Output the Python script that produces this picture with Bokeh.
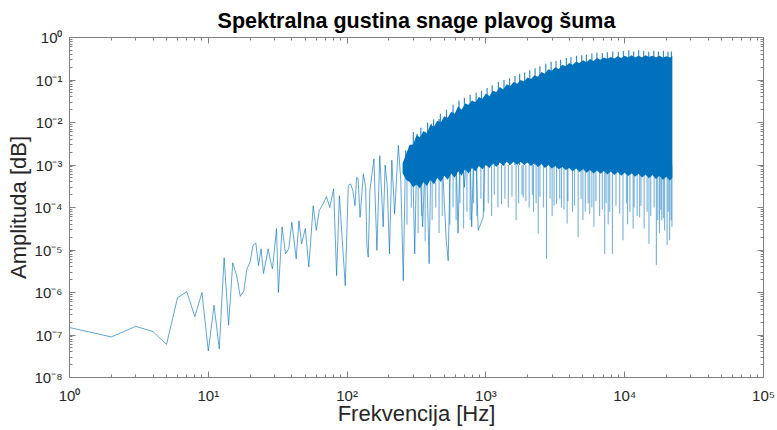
from bokeh.plotting import figure
from bokeh.models import LogAxis, FixedTicker, ColumnDataSource, CustomJSTickFormatter
from bokeh.embed import file_html
from bokeh.resources import INLINE

# ---------------- data ----------------
# low / mid frequency trace (individual strokes visible)
trace_freq = [1, 2, 3, 4, 5, 6, 7, 8, 9, 10, 11, 12, 13, 14, 15, 16, 17, 18, 19, 20,
              21, 22, 23, 24, 25, 27, 28, 29, 31, 32, 34, 36, 38, 40, 43, 45, 47, 50,
              53, 57, 60, 63, 67, 71, 75, 80, 84, 88, 92, 97, 102, 106, 110, 114, 117,
              120, 124, 131, 136, 139, 142, 146, 151, 156, 164, 172, 182, 188, 195, 202,
              210, 220, 234, 244, 254, 264, 280, 295, 307, 320, 335, 350, 370, 390, 405,
              430, 460, 490, 518, 535, 560, 600, 630, 660, 700, 760, 790, 830, 880, 956, 1000]
trace_amp = [1.5e-7, 9e-8, 1.6e-7, 1.2e-7, 6e-8, 7.5e-7, 1.05e-6, 2.7e-7, 1.0e-6, 4.2e-8,
             5e-7, 4.7e-8, 6.6e-6, 1.7e-7, 5e-6, 2.5e-6, 8.1e-7, 1.07e-6, 3.6e-6, 5.2e-6,
             1.3e-5, 1.45e-5, 4.3e-6, 1.07e-5, 2.8e-6, 1.07e-5, 5.6e-6, 3.6e-6, 3.2e-5, 1.0e-6,
             3.5e-5, 8.1e-6, 1.07e-5, 4.5e-5, 6.2e-6, 4.9e-5, 1.4e-5, 3.2e-5,
             4.0e-6, 1.1e-4, 2.9e-5, 8.5e-5, 1.2e-4, 1.8e-4, 1.0e-4, 2.75e-4, 2.5e-6, 1.9e-4,
             2.0e-5, 1.45e-6, 3.3e-4, 3.6e-4, 2.5e-4, 1.1e-4, 5.1e-4,
             4.8e-4, 5.9e-5, 6.2e-4, 3e-4, 1.2e-5, 6.8e-6, 2.5e-4, 6e-4, 1.4e-3, 9.8e-6, 1.66e-3,
             3.5e-5, 1.0e-3, 3e-4, 8.1e-6,
             1.3e-3, 7e-5, 2.9e-3, 4e-4, 1.9e-6, 2.2e-3, 6e-4, 3e-3, 8.1e-6, 5.4e-3, 8e-4,
             3.5e-5, 4e-3, 4.8e-6, 9.3e-3,
             2e-3, 1.2e-2, 6e-4, 1.7e-5, 5.6e-6, 8e-3, 1.5e-2, 2.5e-5, 1.2e-2, 3e-4, 2e-2,
             3.5e-5, 1.5e-2, 2.9e-5, 5.9e-5, 3e-2]

# dense high-frequency region: upper and lower edges of the solid part
dense_freq = [251, 266, 282, 299, 316, 335, 355, 376, 398, 422, 447, 473, 501, 531, 562,
              596, 631, 668, 708, 750, 794, 841, 891, 944, 1000, 1059, 1122, 1189, 1259,
              1334, 1413, 1496, 1585, 1679, 1778, 1884, 1995, 2113, 2239, 2371, 2512, 2661,
              2818, 2985, 3162, 3350, 3548, 3758, 3981, 4217, 4467, 4732, 5012, 5309, 5623,
              5957, 6310, 6683, 7079, 7499, 7943, 8414, 8913, 9441, 10000, 10593, 11220,
              11885, 12589, 13335, 14125, 14962, 15849, 16788, 17783, 18836, 19953, 21135,
              22050]
dense_top = [1.1e-3, 1.8e-3, 3.0e-3, 3.0e-3, 5.0e-3, 4.5e-3, 6.3e-3, 5.6e-3, 8.9e-3, 7.9e-3,
             1.1e-2, 1.0e-2, 1.4e-2, 1.3e-2, 1.8e-2, 1.6e-2, 2.4e-2, 2.0e-2, 2.8e-2, 2.6e-2,
             3.3e-2, 3.0e-2, 4.0e-2, 3.6e-2, 4.8e-2, 4.2e-2, 5.6e-2, 5.2e-2, 6.8e-2, 6.0e-2,
             7.9e-2, 7.2e-2, 9.0e-2, 8.2e-2, 0.10, 0.092, 0.115, 0.105, 0.13, 0.12, 0.155,
             0.14, 0.18, 0.165, 0.20, 0.18, 0.23, 0.21, 0.25, 0.23, 0.27, 0.25, 0.29, 0.26,
             0.31, 0.28, 0.33, 0.30, 0.34, 0.31, 0.35, 0.32, 0.36, 0.33, 0.37, 0.34, 0.38,
             0.34, 0.37, 0.34, 0.38, 0.35, 0.37, 0.34, 0.37, 0.34, 0.36, 0.34, 0.36]
dense_bottom = [6.5e-4, 4.5e-4, 4.0e-4, 3.0e-4, 3.5e-4, 2.8e-4, 4.0e-4, 3.2e-4, 4.5e-4, 3.5e-4,
                5.0e-4, 4.0e-4, 5.6e-4, 4.5e-4, 6.3e-4, 5.0e-4, 7.1e-4, 5.6e-4, 7.9e-4, 6.3e-4,
                8.5e-4, 7.1e-4, 9.5e-4, 7.9e-4, 1.0e-3, 8.5e-4, 1.1e-3, 9.0e-4, 1.15e-3, 9.5e-4,
                1.2e-3, 1.0e-3, 1.2e-3, 1.0e-3, 1.2e-3, 1.0e-3, 1.15e-3, 9.5e-4, 1.1e-3, 9.0e-4,
                1.05e-3, 8.5e-4, 1.0e-3, 8.3e-4, 9.5e-4, 7.9e-4, 9.0e-4, 7.6e-4, 8.5e-4, 7.1e-4,
                8.3e-4, 6.8e-4, 8.0e-4, 6.6e-4, 7.6e-4, 6.3e-4, 7.4e-4, 6.2e-4, 7.2e-4, 6.0e-4,
                7.0e-4, 5.8e-4, 6.8e-4, 5.6e-4, 6.6e-4, 5.5e-4, 6.4e-4, 5.3e-4, 6.2e-4, 5.1e-4,
                6.0e-4, 4.9e-4, 5.8e-4, 4.7e-4, 5.6e-4, 4.5e-4, 5.3e-4, 4.3e-4, 5.0e-4]

# thin upward spikes on the top edge of the dense region
up_freq = [300, 340, 380, 420, 470, 520, 580, 640, 700, 770, 850, 930, 1020, 1110, 1230,
           1350, 1480, 1620, 1750, 1900, 2070, 2260, 2450, 2700, 2950, 3200, 3450, 3800,
           4100, 4500, 4900, 5300, 5800, 6300, 6900, 7500, 8200, 9000, 9800, 10700, 11600,
           12600, 13700, 14900, 16200, 17500, 19000, 20500, 21700]
up_top = [6e-3, 7.5e-3, 1.0e-2, 1.2e-2, 1.6e-2, 2.0e-2, 2.6e-2, 3.3e-2, 3.8e-2, 4.5e-2,
          5.0e-2, 5.6e-2, 6.5e-2, 7.5e-2, 9.0e-2, 0.10, 0.11, 0.125, 0.14, 0.15, 0.17, 0.19,
          0.21, 0.24, 0.27, 0.28, 0.30, 0.33, 0.35, 0.37, 0.38, 0.40, 0.42, 0.44, 0.43, 0.45,
          0.47, 0.46, 0.48, 0.50, 0.47, 0.50, 0.48, 0.46, 0.49, 0.47, 0.48, 0.46, 0.47]

# light downward streaks below the solid part
streak_freq = [270, 290, 325, 345, 365, 410, 435, 460, 485, 550, 580, 610, 650, 690, 730,
               770, 815, 860, 920, 970, 1040, 1150, 1220, 1370, 1540, 1720, 1820, 1940,
               2160, 2300, 2450, 2600, 2900, 3100, 3400, 3650, 3900, 4350, 4850, 5200,
               5450, 5800, 6200, 6900, 7350, 7800, 8650, 9200, 10300, 10900, 11700, 12300,
               13100, 14500, 15400, 16300, 17300, 18200, 19000, 20600, 21600, 21900]
streak_low = [4.0e-5, 1.0e-4, 2.5e-5, 6.3e-5, 1.6e-5, 5.0e-5, 1.0e-4, 2.5e-5, 6.3e-5,
              4.0e-5, 1.0e-4, 5.0e-5, 1.26e-4, 3.2e-5, 7.9e-5, 5.0e-5, 1.26e-4, 6.3e-5,
              1.6e-4, 7.9e-5, 1.26e-4, 2.0e-4, 1.0e-4, 1.6e-4, 1.8e-4, 1.26e-4, 2.0e-4,
              1.4e-4, 2.0e-4, 1.26e-4, 1.8e-4, 1.0e-4, 1.6e-4, 1.1e-4, 1.6e-4, 8.9e-5,
              1.4e-4, 1.1e-4, 1.6e-4, 7.9e-5, 1.26e-4, 1.0e-4, 1.4e-4, 8.9e-5, 1.26e-4,
              7.9e-5, 1.1e-4, 7.1e-5, 1.26e-4, 7.9e-5, 1.0e-4, 6.3e-5, 1.1e-4, 7.9e-5,
              6.3e-5, 1.0e-4, 5.0e-5, 8.9e-5, 5.6e-5, 7.9e-5, 5.0e-5, 3.5e-5]

# long downward spikes in the dense region
spike_freq = [1100, 1297, 1450, 1650, 1857, 2050, 2200, 2381, 2735, 3000, 3228, 3500, 3848,
              4200, 4617, 5000, 5600, 6000, 6600, 7180, 7600, 8150, 9720, 10500, 11500,
              12820, 13800, 14960, 16900, 17800, 18500, 19400, 20200, 21080]
spike_low = [6.3e-5, 1.2e-4, 1.0e-4, 5.0e-5, 1.7e-4, 1.0e-4, 7.9e-5, 2.4e-5, 6.2e-6, 6.3e-5,
             1.2e-4, 1.0e-4, 4.2e-5, 7.9e-5, 2.0e-5, 5.0e-5, 7.0e-5, 3.5e-5, 6.3e-5, 8.1e-6,
             4.0e-5, 8.1e-6, 1.7e-5, 4.0e-5, 3.2e-5, 5.9e-5, 3.2e-5, 1.4e-5, 4.4e-6, 2.5e-5,
             5.0e-5, 2.9e-5, 1.3e-5, 1.7e-5]

x_ticks = [1, 10, 100, 1000, 10000, 100000]
x_tick_labels = ["10⁰", "10¹", "10²", "10³", "10⁴", "10⁵"]
y_ticks = [1e-8, 1e-7, 1e-6, 1e-5, 1e-4, 1e-3, 1e-2, 1e-1, 1]
y_tick_labels = ["10⁻⁸", "10⁻⁷", "10⁻⁶", "10⁻⁵", "10⁻⁴", "10⁻³", "10⁻²", "10⁻¹", "10⁰"]

title_text = "Spektralna gustina snage plavog šuma"
x_label = "Frekvencija [Hz]"
y_label = "Amplituda [dB]"

# ---------------- figure ----------------
BLUE = "#0072BD"
AX = "#808080"
TXT = "#262626"
FONT = "Liberation Sans"

p = figure(width=777, height=430, x_axis_type="log", y_axis_type="log",
           x_range=(1, 1e5), y_range=(1e-8, 1), output_backend="svg",
           toolbar_location=None, min_border_left=69, min_border_right=14,
           min_border_top=37, min_border_bottom=53)
p.title.text = title_text
p.title.align = "center"
p.title.text_font = FONT
p.title.text_font_size = "21.5px"
p.title.text_font_style = "bold"
p.title.text_color = "black"
p.title.offset = 0
p.grid.visible = False
p.outline_line_color = None

src_t = ColumnDataSource(dict(f=trace_freq, a=trace_amp))
p.line("f", "a", source=src_t, line_color=BLUE, line_width=0.9, line_alpha=0.7)

src_st = ColumnDataSource(dict(f=streak_freq, low=streak_low))
p.segment(x0="f", y0=1e-3, x1="f", y1="low", source=src_st, line_color=BLUE,
          line_width=1.2, line_alpha=0.5)
src_s = ColumnDataSource(dict(f=spike_freq, low=spike_low))
p.segment(x0="f", y0=1e-3, x1="f", y1="low", source=src_s, line_color=BLUE,
          line_width=1, line_alpha=0.6)
src_u = ColumnDataSource(dict(f=up_freq, top=up_top))
p.segment(x0="f", y0=1e-3, x1="f", y1="top", source=src_u, line_color=BLUE,
          line_width=1.2, line_alpha=0.8)

src_d = ColumnDataSource(dict(f=dense_freq, top=dense_top, bot=dense_bottom))
p.varea(x="f", y1="bot", y2="top", source=src_d, fill_color=BLUE, fill_alpha=1.0)

# ticks
minor_x = [m * 10 ** k for k in range(0, 5) for m in range(2, 10)]
minor_y = [m * 10.0 ** k for k in range(-8, 0) for m in range(2, 10)]


def style(ax, ticks, minor, labels=None):
    ax.ticker = FixedTicker(ticks=ticks, minor_ticks=minor)
    ax.axis_line_color = AX
    ax.major_tick_line_color = AX
    ax.minor_tick_line_color = AX
    ax.major_tick_in = 6
    ax.major_tick_out = 0
    ax.minor_tick_in = 3
    ax.minor_tick_out = 0
    ax.major_label_text_font = FONT
    ax.major_label_text_color = TXT
    if labels is not None:
        ax.major_label_text_font_size = "15px"
        ax.major_label_overrides = {t: l for t, l in zip(ticks, labels)}
    else:
        ax.formatter = CustomJSTickFormatter(code="return ''")
        ax.major_label_text_font_size = "2px"
        ax.major_label_standoff = 0


style(p.xaxis[0], x_ticks, minor_x, x_tick_labels)
style(p.yaxis[0], y_ticks, minor_y, y_tick_labels)
p.xaxis[0].major_label_standoff = 9
p.yaxis[0].major_label_standoff = 7
p.xaxis[0].axis_label = x_label
p.yaxis[0].axis_label = y_label
for ax in (p.xaxis[0], p.yaxis[0]):
    ax.axis_label_text_font = FONT
    ax.axis_label_text_font_size = "22px"
    ax.axis_label_text_font_style = "normal"
    ax.axis_label_text_color = TXT
p.xaxis[0].axis_label_standoff = -6
p.yaxis[0].axis_label_standoff = 0

top_ax = LogAxis()
style(top_ax, x_ticks, minor_x)
p.add_layout(top_ax, "above")
right_ax = LogAxis()
style(right_ax, y_ticks, minor_y)
p.add_layout(right_ax, "right")

open("out.html", "w").write(file_html(p, INLINE))
